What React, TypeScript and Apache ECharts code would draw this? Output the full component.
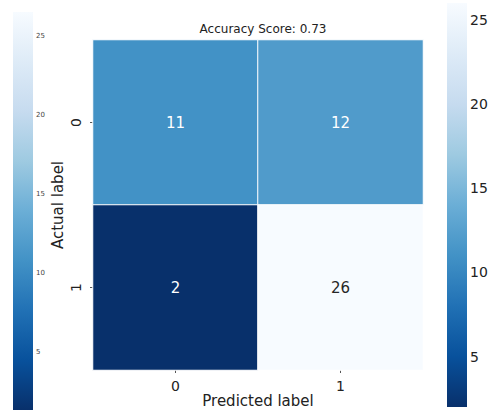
import React, { useEffect, useRef } from "react";
import * as echarts from "echarts";

// Confusion matrix counts: rows = actual label, columns = predicted label
const predictedLabels = ["0", "1"];
const actualLabels = ["0", "1"];
const counts: number[][] = [
  [11, 12],
  [2, 26],
];
const accuracy = 0.73;
const colorbarTicks = [5, 10, 15, 20, 25];
const valueMin = 2;
const valueMax = 26;

// matplotlib "Blues" reversed: low values dark, high values light
const bluesReversed = [
  "#08306b",
  "#08519c",
  "#2171b5",
  "#4292c6",
  "#6baed6",
  "#9ecae1",
  "#c6dbef",
  "#deebf7",
  "#f7fbff",
];

const FONT = "DejaVu Sans";

export default function App() {
  const ref = useRef<HTMLDivElement>(null);

  useEffect(() => {
    if (!ref.current) return;
    document.body.style.margin = "0";
    const chart = echarts.init(ref.current, null, { renderer: "svg" });

    const cells: any[] = [];
    counts.forEach((row, r) => {
      row.forEach((v, c) => {
        const light = (v - valueMin) / (valueMax - valueMin) > 0.5;
        cells.push({
          value: [c, r, v],
          label: { color: light ? "#262626" : "#ffffff" },
        });
      });
    });

    // gradient stops: top of the bar is the high (light) end
    const gradStops = bluesReversed
      .slice()
      .reverse()
      .map((color, i) => ({ offset: i / (bluesReversed.length - 1), color }));

    const barRender = (params: any) => {
      const cs = params.coordSys;
      return {
        type: "rect",
        shape: { x: cs.x, y: cs.y, width: cs.width, height: cs.height },
        style: { fill: new echarts.graphic.LinearGradient(0, 0, 0, 1, gradStops) },
        silent: true,
      };
    };

    chart.setOption({
      animation: false,
      backgroundColor: "#ffffff",
      title: {
        text: `Accuracy Score: ${accuracy}`,
        left: 258,
        textAlign: "center",
        top: 18,
        textStyle: { fontFamily: FONT, fontSize: 12, fontWeight: "normal", color: "#222" },
      },
      grid: [
        { left: 93, top: 40, width: 330, height: 330, outerBoundsMode: "none" },
        { left: 13, top: 12, width: 20, height: 398, outerBoundsMode: "none" },
        { left: 447, top: 3, width: 20, height: 404, outerBoundsMode: "none" },
      ],
      xAxis: [
        {
          gridIndex: 0,
          type: "category",
          data: predictedLabels,
          name: "Predicted label",
          nameLocation: "middle",
          nameGap: 23,
          nameMoveOverlap: false,
          nameTextStyle: { fontFamily: FONT, fontSize: 15, color: "#222" },
          axisLine: { show: false },
          axisTick: { show: true, alignWithLabel: true, length: 3, lineStyle: { color: "#555" } },
          axisLabel: { fontFamily: FONT, fontSize: 14, color: "#222", margin: 9 },
          splitLine: { show: false },
        },
        { gridIndex: 1, type: "value", show: false, min: 0, max: 1 },
        { gridIndex: 2, type: "value", show: false, min: 0, max: 1 },
      ],
      yAxis: [
        {
          gridIndex: 0,
          type: "category",
          data: actualLabels,
          inverse: true,
          name: "Actual label",
          nameLocation: "middle",
          nameGap: 28,
          nameMoveOverlap: false,
          nameRotate: 90,
          nameTextStyle: { fontFamily: FONT, fontSize: 15, color: "#222" },
          axisLine: { show: false },
          axisTick: { show: true, alignWithLabel: true, length: 3, lineStyle: { color: "#555" } },
          axisLabel: { fontFamily: FONT, fontSize: 14, color: "#222", rotate: 90, margin: 10 },
          splitLine: { show: false },
        },
        {
          gridIndex: 1,
          type: "value",
          position: "right",
          min: 1.33,
          max: 26.5,
          axisLine: { show: false },
          splitLine: { show: false },
          axisTick: {
            show: true,
            length: 2,
            customValues: colorbarTicks,
            lineStyle: { color: "#777" },
          },
          axisLabel: {
            fontFamily: FONT,
            fontSize: 7,
            color: "#444",
            margin: 3,
            customValues: colorbarTicks,
          },
        },
        {
          gridIndex: 2,
          type: "value",
          position: "right",
          min: valueMin,
          max: valueMax,
          axisLine: { show: false },
          splitLine: { show: false },
          axisTick: {
            show: true,
            length: 3,
            customValues: colorbarTicks,
            lineStyle: { color: "#555" },
          },
          axisLabel: {
            fontFamily: FONT,
            fontSize: 14,
            color: "#222",
            margin: 3,
            customValues: colorbarTicks,
          },
        },
      ],
      visualMap: {
        show: false,
        type: "continuous",
        seriesIndex: 0,
        dimension: 2,
        min: valueMin,
        max: valueMax,
        inRange: { color: bluesReversed },
      },
      series: [
        {
          type: "heatmap",
          xAxisIndex: 0,
          yAxisIndex: 0,
          data: cells,
          itemStyle: { borderColor: "#ffffff", borderWidth: 1 },
          label: {
            show: true,
            fontFamily: FONT,
            fontSize: 15,
            formatter: (p: any) => String(p.value[2]),
          },
          emphasis: { disabled: true },
        },
        {
          type: "custom",
          xAxisIndex: 1,
          yAxisIndex: 1,
          data: [[0]],
          renderItem: barRender,
          silent: true,
        },
        {
          type: "custom",
          xAxisIndex: 2,
          yAxisIndex: 2,
          data: [[0]],
          renderItem: barRender,
          silent: true,
        },
      ],
    });

    return () => chart.dispose();
  }, []);

  return <div ref={ref} style={{ width: 490, height: 410 }} />;
}
